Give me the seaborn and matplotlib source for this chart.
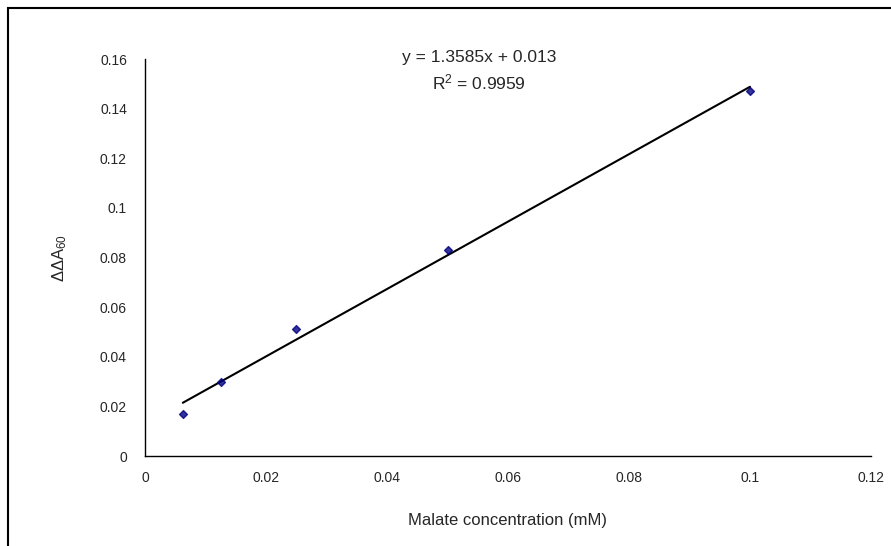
import numpy as np
import matplotlib
matplotlib.use("Agg")
import matplotlib.pyplot as plt
import seaborn as sns
from matplotlib.patches import Rectangle

# data
malate_mM = [0.00625, 0.0125, 0.025, 0.05, 0.1]
dd_a60 = [0.017, 0.030, 0.051, 0.083, 0.147]
x_ticks = [0, 0.02, 0.04, 0.06, 0.08, 0.1, 0.12]
y_ticks = [0, 0.02, 0.04, 0.06, 0.08, 0.1, 0.12, 0.14, 0.16]
x_tick_labels = ["0", "0.02", "0.04", "0.06", "0.08", "0.1", "0.12"]
y_tick_labels = ["0", "0.02", "0.04", "0.06", "0.08", "0.1", "0.12", "0.14", "0.16"]

sns.set_style("white")
plt.rcParams["font.family"] = ["Liberation Sans", "DejaVu Sans"]
plt.rcParams["mathtext.fontset"] = "custom"
plt.rcParams["mathtext.rm"] = "Liberation Sans"
plt.rcParams["mathtext.it"] = "Liberation Sans"

fig = plt.figure(figsize=(8.91, 5.46), dpi=100)
ax = fig.add_axes([145 / 891, 90 / 546, 726 / 891, 397 / 546])

sns.regplot(x=malate_mM, y=dd_a60, ci=None, truncate=True, ax=ax,
            marker="D",
            scatter_kws={"color": "#000080", "s": 16, "zorder": 3},
            line_kws={"color": "black", "lw": 1.5, "zorder": 2})

ax.set_xlim(0, 0.12)
ax.set_ylim(0, 0.16)
ax.set_xticks(x_ticks)
ax.set_xticklabels(x_tick_labels)
ax.set_yticks(y_ticks)
ax.set_yticklabels(y_tick_labels)
ax.tick_params(axis="both", direction="out", length=5, width=1, color="black",
               labelsize=10, pad=6)
ax.tick_params(axis="y", pad=8)
for side in ["top", "right"]:
    ax.spines[side].set_visible(False)
for side in ["left", "bottom"]:
    ax.spines[side].set_color("black")
    ax.spines[side].set_linewidth(1)

ax.set_xlabel("Malate concentration (mM)", fontsize=12, labelpad=20)
ax.set_ylabel("ΔΔA$_{60}$", fontsize=12, labelpad=22)

ax.text(0.46, 1.005, "y = 1.3585x + 0.013", transform=ax.transAxes,
        ha="center", va="center", fontsize=12.5)
ax.text(0.46, 0.942, "R$^2$ = 0.9959", transform=ax.transAxes,
        ha="center", va="center", fontsize=12.5)

# outer chart frame
fig.patches.append(Rectangle((8 / 891, -0.1), 1.2, 1 - 8 / 546 + 0.1,
                             transform=fig.transFigure, fill=False,
                             edgecolor="black", linewidth=1.5))

fig.savefig("out.png", dpi=100)
